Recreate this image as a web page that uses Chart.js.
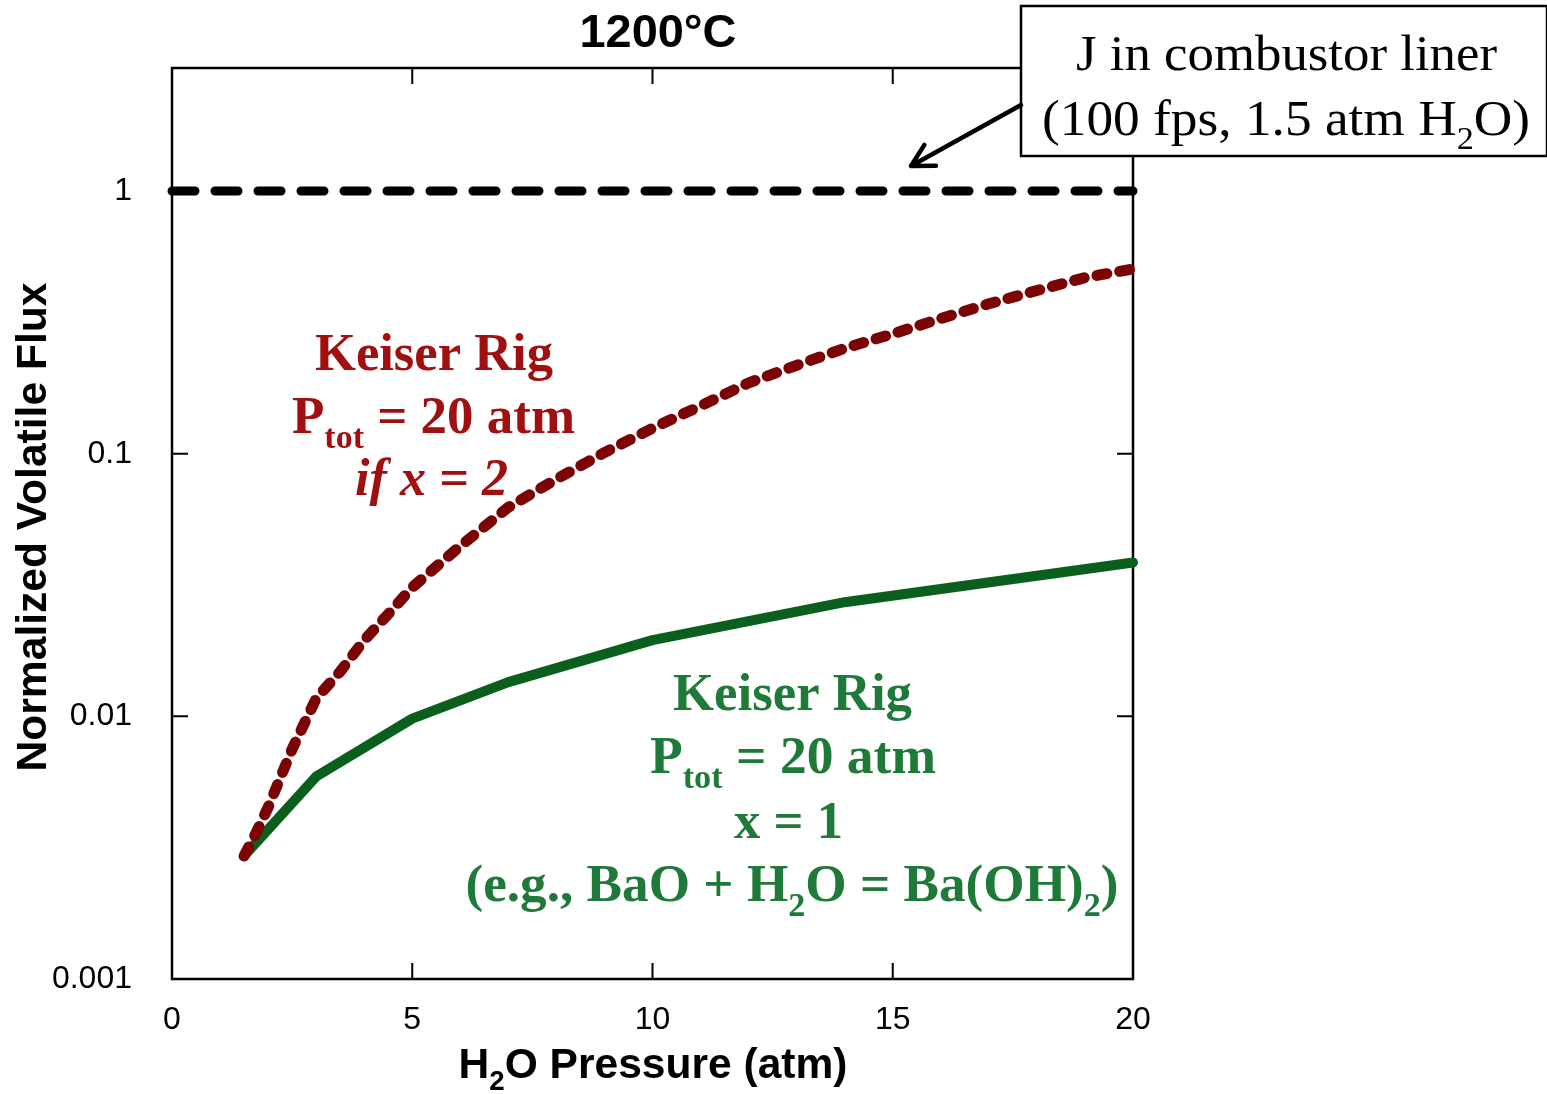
<!DOCTYPE html>
<html>
<head>
<meta charset="utf-8">
<script src="https://cdn.jsdelivr.net/npm/chart.js@4.4.1/dist/chart.umd.min.js"></script>
<style>
  html, body { margin: 0; padding: 0; background: #fff; }
  #wrap { width: 1547px; height: 1094px; }
</style>
</head>
<body>
<div id="wrap"><canvas id="fluxChart" width="1547" height="1094"></canvas></div>
<script>
// values
const pressureX1 = [1.5, 3, 5, 7, 10, 14, 20];
const fluxX1 = [0.00294, 0.0059, 0.0098, 0.0135, 0.0195, 0.0272, 0.0385];

const pressureX2 = [1.5, 1.75, 2, 2.5, 3, 3.5, 4, 4.5, 5, 6, 7, 8, 9, 10, 11, 12, 13, 14, 15, 16, 17, 18, 19, 20];
const fluxX2 = [0.00294, 0.0036, 0.0045, 0.0075, 0.0117, 0.0148, 0.0195, 0.0245, 0.031, 0.0445, 0.0625, 0.080, 0.101, 0.125,
                0.152, 0.186, 0.217, 0.252, 0.286, 0.327, 0.372, 0.418, 0.468, 0.505];

const linerX = [0, 20];
const linerFlux = [1, 1];

const xTicks = [0, 5, 10, 15, 20];
const yTicks = [0.001, 0.01, 0.1, 1];

const SANS = '"Liberation Sans", Arial, sans-serif';
const SERIF = '"Liberation Serif", "Times New Roman", serif';
const RED_TEXT = '#a01010';
const GREEN_TEXT = '#1f7a3a';

function toPoints(xs, ys) {
	return xs.map((x, i) => ({x: x, y: ys[i]}));
}

// draws a run of text pieces (some subscripted) centred on cx, squeezed to width w
function drawRich(ctx, segs, cx, base, opt) {
	const fontFor = (s) => (opt.italic ? 'italic ' : '') + (opt.weight || 'normal') + ' ' +
		(s.sub ? Math.round(opt.size * 0.64) : opt.size) + 'px ' + opt.family;
	let total = 0;
	const ws = segs.map(s => {
		ctx.font = fontFor(s);
		const w = ctx.measureText(s.t).width;
		total += w;
		return w;
	});
	const k = opt.width ? opt.width / total : 1;
	ctx.save();
	ctx.translate(cx, base);
	if (opt.rotate) ctx.rotate(opt.rotate);
	ctx.scale(k, 1);
	ctx.fillStyle = opt.color || '#000';
	ctx.textAlign = 'left';
	ctx.textBaseline = 'alphabetic';
	let xx = -total / 2;
	segs.forEach((s, i) => {
		ctx.font = fontFor(s);
		ctx.fillText(s.t, xx, s.sub ? opt.size * 0.28 : 0);
		xx += ws[i];
	});
	ctx.restore();
}

const framePlugin = {
	id: 'frame',
	beforeDatasetsDraw(chart) {
		const ctx = chart.ctx;
		const a = chart.chartArea;
		const x = chart.scales.x, y = chart.scales.y;
		ctx.save();
		ctx.strokeStyle = '#000';
		ctx.lineWidth = 2.5;
		ctx.strokeRect(a.left, a.top, a.right - a.left, a.bottom - a.top);
		ctx.lineWidth = 2;
		ctx.beginPath();
		[5, 10, 15].forEach(v => {
			const px = x.getPixelForValue(v);
			ctx.moveTo(px, a.bottom); ctx.lineTo(px, a.bottom - 16);
			ctx.moveTo(px, a.top); ctx.lineTo(px, a.top + 16);
		});
		[0.01, 0.1, 1].forEach(v => {
			const py = y.getPixelForValue(v);
			ctx.moveTo(a.left, py); ctx.lineTo(a.left + 16, py);
			ctx.moveTo(a.right, py); ctx.lineTo(a.right - 16, py);
		});
		ctx.stroke();
		ctx.restore();
	},
	afterDraw(chart) {
		const ctx = chart.ctx;

		// title and axis titles
		drawRich(ctx, [{t: '1200°C'}], 658, 47, {size: 47, family: SANS, weight: 'bold', width: 157});
		drawRich(ctx, [{t: 'H'}, {t: '2', sub: true}, {t: 'O Pressure (atm)'}], 653, 1078,
			{size: 43, family: SANS, weight: 'bold', width: 389});
		drawRich(ctx, [{t: 'Normalized Volatile Flux'}], 46, 527,
			{size: 42, family: SANS, weight: 'bold', width: 489, rotate: -Math.PI / 2});

		// red label (x = 2)
		const red = {size: 53, family: SERIF, weight: 'bold', color: RED_TEXT};
		drawRich(ctx, [{t: 'Keiser Rig'}], 434, 370, Object.assign({}, red, {width: 238}));
		drawRich(ctx, [{t: 'P'}, {t: 'tot', sub: true}, {t: ' = 20 atm'}], 433.5, 433, Object.assign({}, red, {width: 283}));
		drawRich(ctx, [{t: 'if x = 2'}], 431.5, 495, Object.assign({}, red, {width: 153, italic: true}));

		// green label (x = 1)
		const green = {size: 53, family: SERIF, weight: 'bold', color: GREEN_TEXT};
		drawRich(ctx, [{t: 'Keiser Rig'}], 792.5, 710, Object.assign({}, green, {width: 239}));
		drawRich(ctx, [{t: 'P'}, {t: 'tot', sub: true}, {t: ' = 20 atm'}], 793, 773, Object.assign({}, green, {width: 286}));
		drawRich(ctx, [{t: 'x = 1'}], 788.5, 838, Object.assign({}, green, {width: 109}));
		drawRich(ctx, [{t: '(e.g., BaO + H'}, {t: '2', sub: true}, {t: 'O = Ba(OH)'}, {t: '2', sub: true}, {t: ')'}],
			792, 901, Object.assign({}, green, {width: 653}));

		// callout box
		ctx.save();
		ctx.fillStyle = '#fff';
		ctx.fillRect(1021, 6, 526, 150);
		ctx.strokeStyle = '#000';
		ctx.lineWidth = 2.5;
		ctx.strokeRect(1021, 6, 526, 150);
		ctx.restore();
		drawRich(ctx, [{t: 'J in combustor liner'}], 1286.5, 70, {size: 50, family: SERIF, width: 421});
		drawRich(ctx, [{t: '(100 fps, 1.5 atm H'}, {t: '2', sub: true}, {t: 'O)'}], 1286, 135,
			{size: 50, family: SERIF, width: 488});

		// arrow to the dashed line
		const x0 = 1021, y0 = 105, x1 = 911, y1 = 166;
		const ang = Math.atan2(y1 - y0, x1 - x0);
		ctx.save();
		ctx.strokeStyle = '#000';
		ctx.lineWidth = 4.5;
		ctx.lineCap = 'round';
		ctx.lineJoin = 'round';
		ctx.beginPath();
		ctx.moveTo(x0, y0);
		ctx.lineTo(x1, y1);
		ctx.moveTo(x1 - 25 * Math.cos(ang - 0.5), y1 - 25 * Math.sin(ang - 0.5));
		ctx.lineTo(x1, y1);
		ctx.lineTo(x1 - 25 * Math.cos(ang + 0.5), y1 - 25 * Math.sin(ang + 0.5));
		ctx.stroke();
		ctx.restore();
	}
};

const config = {
	type: 'scatter',
	data: {
		datasets: [
			{
				label: 'J in combustor liner',
				data: toPoints(linerX, linerFlux),
				showLine: true,
				borderColor: '#000',
				borderWidth: 9,
				borderDash: [23, 20],
				borderCapStyle: 'round',
				pointRadius: 0,
				clip: false
			},
			{
				label: 'Keiser Rig, if x = 2',
				data: toPoints(pressureX2, fluxX2),
				showLine: true,
				borderColor: '#7b0303',
				borderWidth: 11,
				borderDash: [10, 13],
				borderCapStyle: 'round',
				borderJoinStyle: 'round',
				pointRadius: 0,
				clip: false
			},
			{
				label: 'Keiser Rig, x = 1',
				data: toPoints(pressureX1, fluxX1),
				showLine: true,
				borderColor: '#0a5f1c',
				borderWidth: 10,
				borderCapStyle: 'round',
				borderJoinStyle: 'round',
				pointRadius: 0,
				clip: false
			}
		]
	},
	options: {
		responsive: false,
		animation: false,
		devicePixelRatio: 1,
		layout: {padding: {top: 68, right: 414, left: 0, bottom: 0}},
		plugins: {
			legend: {display: false},
			title: {display: false},
			tooltip: {enabled: false}
		},
		scales: {
			x: {
				type: 'linear',
				min: 0,
				max: 20,
				grid: {display: false, drawTicks: false},
				border: {display: false},
				afterBuildTicks: s => { s.ticks = xTicks.map(v => ({value: v})); },
				afterFit: s => { s.height = 115; },
				ticks: {
					font: {family: SANS, size: 32},
					color: '#000',
					padding: 22,
					maxRotation: 0,
					autoSkip: false
				}
			},
			y: {
				type: 'logarithmic',
				min: 0.001,
				max: 2.94,
				grid: {display: false, drawTicks: false},
				border: {display: false},
				afterBuildTicks: s => { s.ticks = yTicks.map(v => ({value: v})); },
				afterFit: s => { s.width = 172; },
				ticks: {
					font: {family: SANS, size: 32},
					color: '#000',
					padding: 40,
					autoSkip: false,
					callback: v => String(v)
				}
			}
		}
	},
	plugins: [framePlugin]
}; //end of config

new Chart(document.getElementById('fluxChart'), config);
</script>
</body>
</html>
